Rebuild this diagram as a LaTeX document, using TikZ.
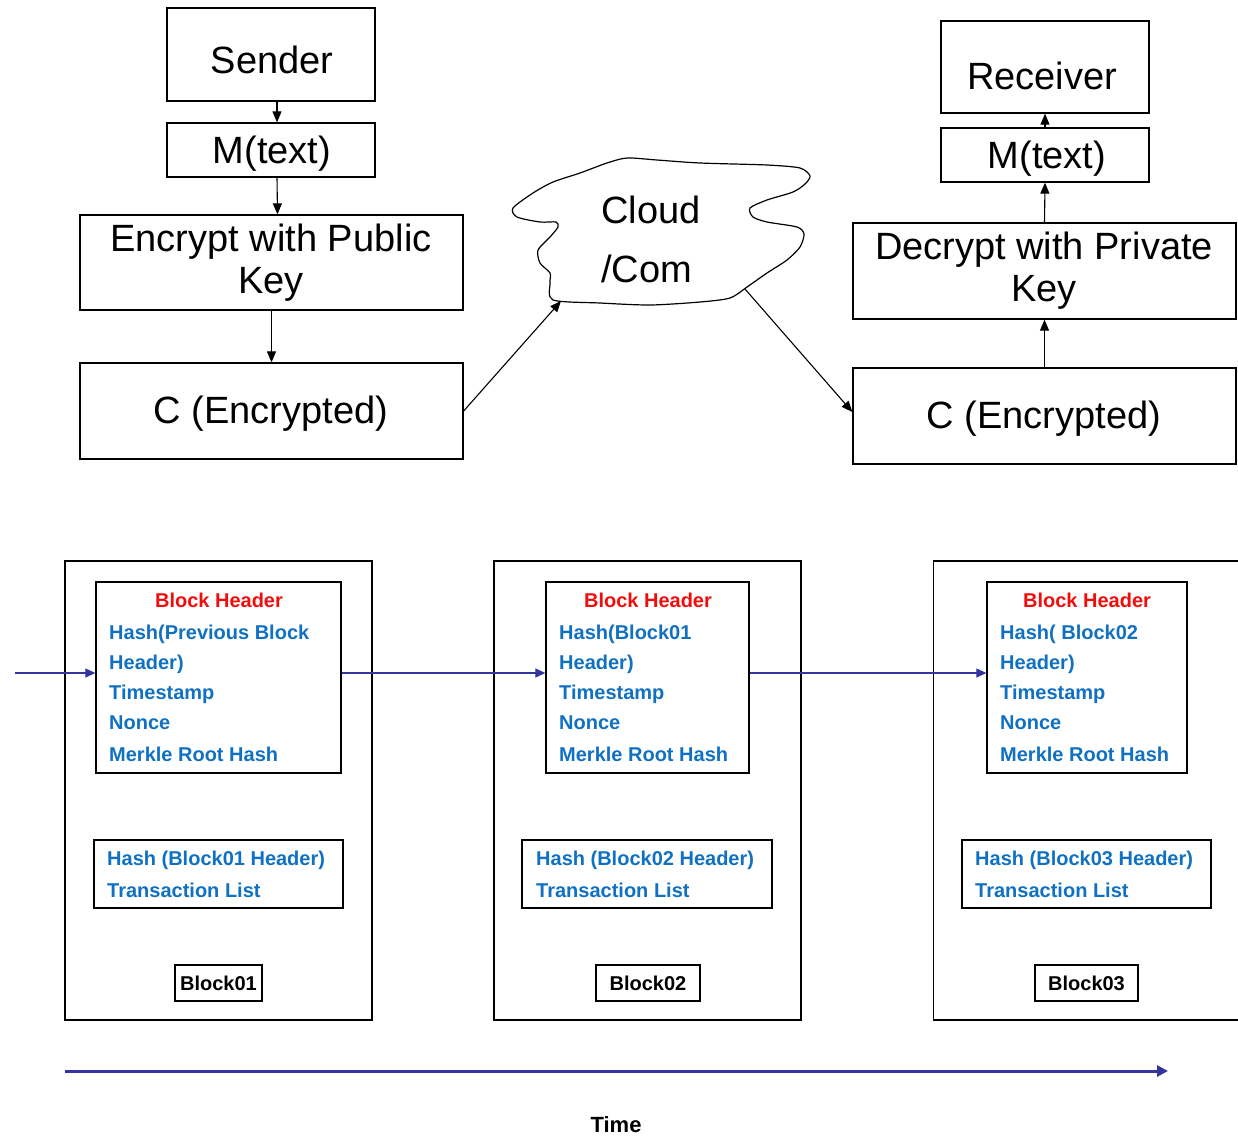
\documentclass[tikz,border=0pt]{standalone}
\usepackage{fontspec}
\setmainfont{Liberation Sans}
\usetikzlibrary{arrows.meta}
\definecolor{hdrred}{HTML}{F20D0D}
\definecolor{fieldblue}{HTML}{1070C2}
\definecolor{chainblue}{HTML}{34349C}

\begin{document}
\begin{tikzpicture}[x=1pt,y=-1pt,
  box/.style={draw, line width=1.3pt, inner sep=0pt},
  big/.style={font=\fontsize{38}{42}\selectfont, align=center, inner sep=0pt},
  flow/.style={-{Triangle[length=11pt,width=9pt]}, line width=1.1pt},
  chain/.style={-{Triangle[length=10pt,width=9pt]}, line width=1.1pt, chainblue},
  title/.style={font=\fontsize{20}{24}\bfseries\selectfont, text=hdrred, inner sep=0pt},
  field/.style={font=\fontsize{20}{24}\bfseries\selectfont, text=fieldblue, anchor=base west, inner sep=0pt},
  tag/.style={box, font=\fontsize{20}{24}\bfseries\selectfont, minimum height=36pt},
]
\useasboundingbox (0,0) rectangle (1238,1136);
\clip (0,0) rectangle (1238,1136);

% ---------- sender side ----------
\node[box, minimum width=208pt, minimum height=93pt] (sender) at (271,54.5) {};
\node[big] (senderTxt) at (272,60) {Sender};
\node[box, minimum width=208pt, minimum height=54pt] (msgL) at (271,150) {};
\node[big] (msgLTxt) at (272,154) {M(text)};
\node[box, minimum width=383pt, minimum height=95pt] (enc) at (271.5,262.5) {};
\node[big] (encTxt) at (271,263) {Encrypt with Public\\Key};
\node[box, minimum width=383pt, minimum height=96pt] (cL) at (271.5,411) {};
\node[big] (cLTxt) at (271,414) {C (Encrypted)};

\draw[flow] ([xshift=6pt]sender.south) -- ([xshift=6pt]msgL.north);
\draw[flow] ([xshift=6pt]msgL.south) -- ([xshift=6pt]enc.north);
\draw[flow] (enc.south) -- (cL.north);

% ---------- receiver side ----------
\node[box, minimum width=208pt, minimum height=92pt] (receiver) at (1045,67) {};
\node[big] (receiverTxt) at (1042,76) {Receiver};
\node[box, minimum width=208pt, minimum height=54pt] (msgR) at (1045,155) {};
\node[big] (msgRTxt) at (1047,159) {M(text)};
\node[box, minimum width=383pt, minimum height=96pt] (dec) at (1044.5,271) {};
\node[big] (decTxt) at (1044,271) {Decrypt with Private\\Key};
\node[box, minimum width=383pt, minimum height=96pt] (cR) at (1044.5,416) {};
\node[big] (cRTxt) at (1044,419) {C (Encrypted)};

\draw[flow] (cR.north) -- (dec.south);
\draw[flow] (dec.north) -- (msgR.south);
\draw[flow] (msgR.north) -- (receiver.south);

% ---------- cloud ----------
\draw[line width=1.2pt] plot[smooth cycle, tension=0.45] coordinates {
  (513,208) (533,193) (553,182) (580,173) (607,163) (627,158) (657,160)
  (700,163) (767,165) (800,168) (810,176) (805,184) (793,192) (767,200)
  (750,208) (753,217) (767,222) (797,227) (804,234) (800,247) (787,260)
  (767,273) (747,287) (730,298) (700,302) (650,305) (600,303) (553,300)
  (550,283) (550,273) (540,263) (538,250) (550,237) (558,227) (556,222)
  (540,222) (517,217)};
\node[font=\fontsize{38}{59}\selectfont, align=left, inner sep=0pt] (cloud) at (651,239) {Cloud\\/Com};
\coordinate (cloudin) at (561,301);
\coordinate (cloudout) at (745,289);

\draw[flow] (cL.east) -- (cloudin);
\draw[flow] (cloudout) -- ([yshift=4pt]cR.west);

% ---------- block chain ----------
% Block01
\node[box, minimum width=307pt, minimum height=459pt] (blk1) at (218.5,790.5) {};
\node[box, minimum width=245pt, minimum height=191pt] (hdr1) at (218.5,677.5) {};
\node[title] (t1) at (219,600) {Block Header};
\node[field] (f1a) at (109,639) {Hash(Previous Block};
\node[field] (f1b) at (109,669) {Header)};
\node[field] (f1c) at (109,699) {Timestamp};
\node[field] (f1d) at (109,729) {Nonce};
\node[field] (f1e) at (109,761) {Merkle Root Hash};
\node[box, minimum width=249pt, minimum height=68pt] (hash1) at (218.5,874) {};
\node[field] (h1a) at (107,865) {Hash (Block01 Header)};
\node[field] (h1b) at (107,897) {Transaction List};
\node[tag, minimum width=87pt] (tag1) at (218.5,983) {Block01};

% Block02
\node[box, minimum width=307pt, minimum height=459pt] (blk2) at (647.5,790.5) {};
\node[box, minimum width=203pt, minimum height=191pt] (hdr2) at (647.5,677.5) {};
\node[title] (t2) at (648,600) {Block Header};
\node[field] (f2a) at (559,639) {Hash(Block01};
\node[field] (f2b) at (559,669) {Header)};
\node[field] (f2c) at (559,699) {Timestamp};
\node[field] (f2d) at (559,729) {Nonce};
\node[field] (f2e) at (559,761) {Merkle Root Hash};
\node[box, minimum width=250pt, minimum height=68pt] (hash2) at (647,874) {};
\node[field] (h2a) at (536,865) {Hash (Block02 Header)};
\node[field] (h2b) at (536,897) {Transaction List};
\node[tag, minimum width=104pt] (tag2) at (648,983) {Block02};

% Block03
\node[box, minimum width=307pt, minimum height=459pt] (blk3) at (1087,790.5) {};
\node[box, minimum width=200pt, minimum height=191pt] (hdr3) at (1087,677.5) {};
\node[title] (t3) at (1087,600) {Block Header};
\node[field] (f3a) at (1000,639) {Hash( Block02};
\node[field] (f3b) at (1000,669) {Header)};
\node[field] (f3c) at (1000,699) {Timestamp};
\node[field] (f3d) at (1000,729) {Nonce};
\node[field] (f3e) at (1000,761) {Merkle Root Hash};
\node[box, minimum width=249pt, minimum height=68pt] (hash3) at (1086.5,874) {};
\node[field] (h3a) at (975,865) {Hash (Block03 Header)};
\node[field] (h3b) at (975,897) {Transaction List};
\node[tag, minimum width=103pt] (tag3) at (1086.5,983) {Block03};

% links between block headers
\coordinate (chainstart) at (15,673);
\draw[chain] (chainstart) -- ([yshift=4.5pt]hdr1.west);
\draw[chain] ([yshift=4.5pt]hdr1.east) -- ([yshift=4.5pt]hdr2.west);
\draw[chain] ([yshift=4.5pt]hdr2.east) -- ([yshift=4.5pt]hdr3.west);

% time axis
\coordinate (t0) at (65,1071);
\coordinate (tend) at (1168,1071);
\draw[-{Triangle[length=11pt,width=11pt]}, line width=3pt, chainblue] (t0) -- (tend);
\node[font=\fontsize{22}{26}\bfseries\selectfont, inner sep=0pt] (time) at (616,1125) {Time};
\end{tikzpicture}
\end{document}
